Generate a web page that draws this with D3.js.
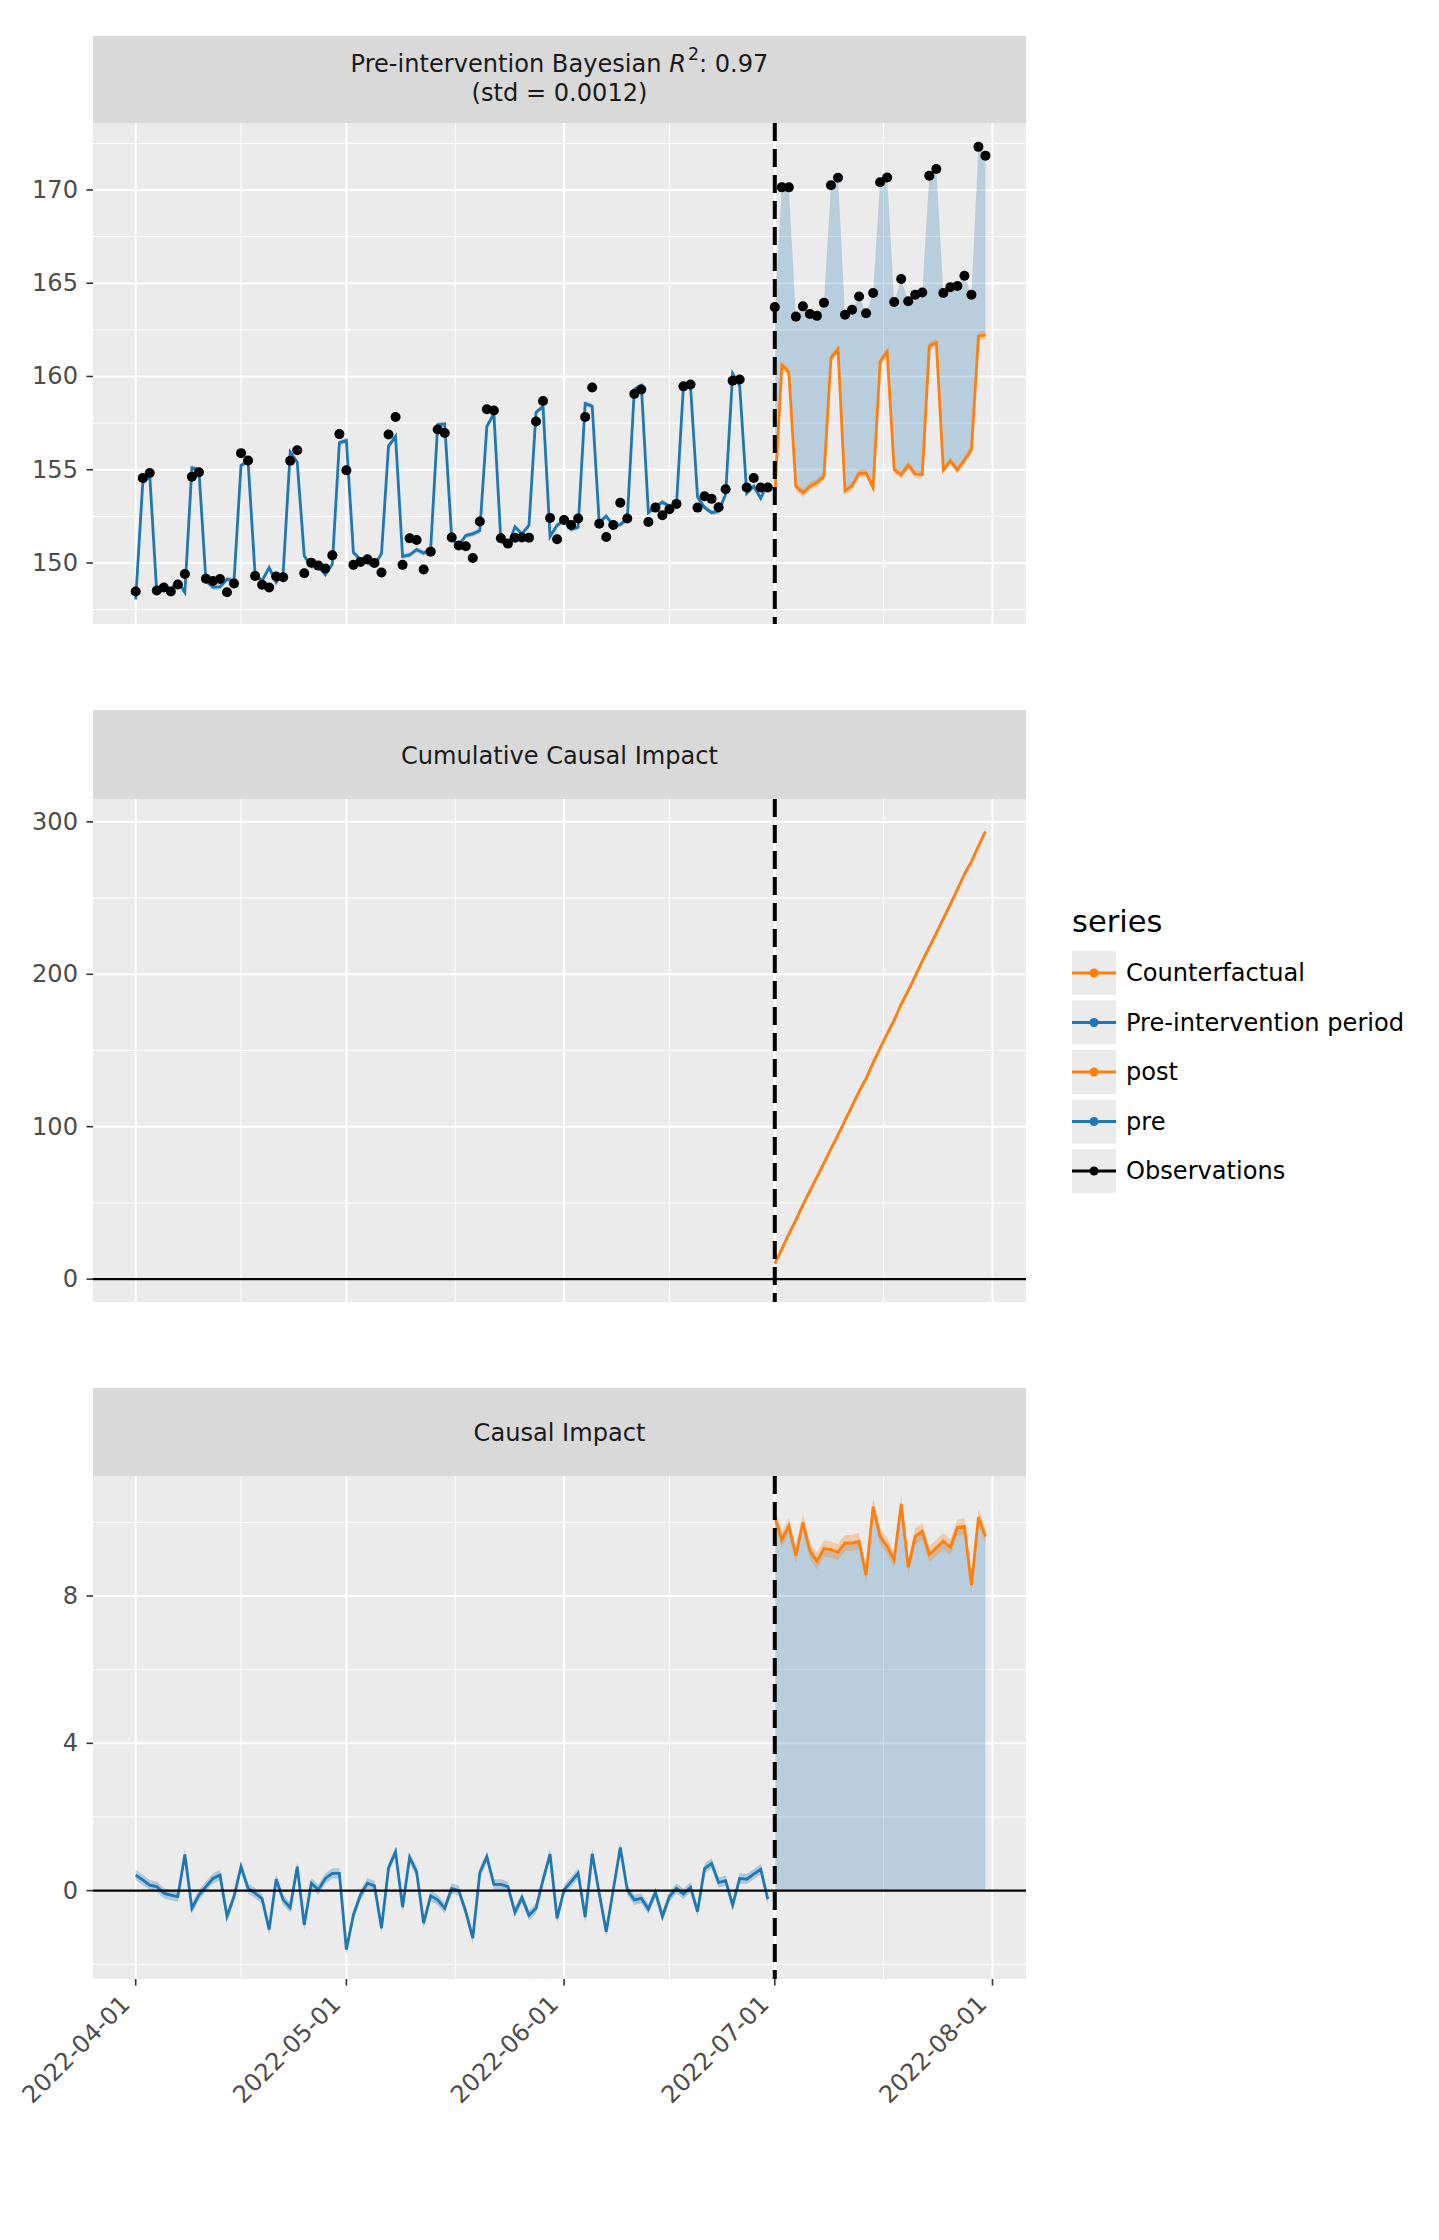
<!DOCTYPE html>
<html>
<head>
<meta charset="utf-8">
<script src="https://cdn.jsdelivr.net/npm/d3@7"></script>
<style>
  body { margin: 0; background: #fff; }
  svg { display: block; font-family: "DejaVu Sans", sans-serif; }
</style>
</head>
<body>
<svg id="chart"></svg>
<script>
// ---- data (daily, 2022-04-01 .. 2022-07-31) ----
const startDay = '2022-04-01'
const interventionDay = '2022-07-01'
const preLength = 91   // Apr 1 .. Jun 30

const observed = [
  148.47, 154.56, 154.83, 148.53, 148.69, 148.47, 148.85, 149.41, 154.62, 154.87,
  149.16, 149.04, 149.14, 148.43, 148.90, 155.89, 155.50, 149.30, 148.83, 148.69,
  149.28, 149.24, 155.48, 156.05, 149.45, 150.02, 149.86, 149.71, 150.41, 156.91,
  154.97, 149.90, 150.06, 150.20, 150.00, 149.49, 156.89, 157.83, 149.90, 151.33,
  151.23, 149.65, 150.61, 157.16, 156.97, 151.37, 150.94, 150.90, 150.27, 152.23,
  158.24, 158.18, 151.33, 151.04, 151.35, 151.37, 151.35, 157.59, 158.69, 152.41,
  151.27, 152.31, 152.04, 152.39, 157.83, 159.41, 152.10, 151.39, 152.04, 153.23,
  152.39, 159.06, 159.30, 152.20, 152.97, 152.56, 152.88, 153.17, 159.47, 159.57,
  152.97, 153.58, 153.44, 152.99, 153.95, 159.77, 159.84, 154.05, 154.56, 154.05,
  154.05,
  163.72, 170.14, 170.14, 163.21, 163.76, 163.35, 163.25, 163.95, 170.25, 170.65,
  163.31, 163.58, 164.29, 163.39, 164.48, 170.41, 170.67, 163.99, 165.23, 164.03,
  164.38, 164.50, 170.76, 171.12, 164.48, 164.79, 164.85, 165.40, 164.38, 172.31,
  171.84
]

// model fit before the intervention, counterfactual after it
const predicted = [
  148.05, 154.27, 154.68, 148.42, 148.76, 148.59, 149.01, 148.43, 155.10, 154.99,
  149.05, 148.71, 148.72, 149.13, 149.06, 155.24, 155.44, 149.37, 149.05, 149.75,
  148.97, 149.49, 155.94, 155.40, 150.38, 149.82, 149.84, 149.38, 149.94, 156.44,
  156.57, 150.56, 150.18, 150.00, 149.87, 150.51, 156.27, 156.78, 150.35, 150.43,
  150.72, 150.53, 150.75, 157.41, 157.45, 151.31, 150.94, 151.47, 151.56, 151.74,
  157.32, 158.01, 151.16, 150.93, 151.94, 151.56, 152.02, 158.07, 158.40, 151.42,
  152.02, 152.29, 151.80, 151.92, 158.55, 158.41, 152.17, 152.51, 152.02, 152.06,
  152.37, 159.31, 159.51, 152.70, 153.02, 153.26, 153.04, 153.11, 159.56, 159.48,
  153.54, 152.98, 152.70, 152.77, 153.68, 160.16, 159.51, 153.74, 154.11, 153.47,
  154.28,
  153.56, 160.61, 160.23, 154.11, 153.76, 154.12, 154.30, 154.66, 160.99, 161.46,
  153.87, 154.14, 154.80, 154.82, 154.05, 160.79, 161.32, 155.00, 154.73, 155.25,
  154.76, 154.74, 161.63, 161.81, 154.99, 155.47, 154.99, 155.51, 156.08, 162.17,
  162.22
]

const impact = [
  0.42, 0.29, 0.15, 0.11, -0.07, -0.12, -0.16, 0.98, -0.48, -0.12,
  0.11, 0.33, 0.42, -0.70, -0.16, 0.65, 0.06, -0.07, -0.22, -1.06,
  0.31, -0.25, -0.46, 0.65, -0.93, 0.20, 0.02, 0.33, 0.47, 0.47,
  -1.60, -0.66, -0.12, 0.20, 0.13, -1.02, 0.62, 1.05, -0.45, 0.90,
  0.51, -0.88, -0.14, -0.25, -0.48, 0.06, 0.00, -0.57, -1.29, 0.49,
  0.92, 0.17, 0.17, 0.11, -0.59, -0.19, -0.67, -0.48, 0.29, 0.99,
  -0.75, 0.02, 0.24, 0.47, -0.72, 1.00, -0.07, -1.12, 0.02, 1.17,
  0.02, -0.25, -0.21, -0.50, -0.05, -0.70, -0.16, 0.06, -0.09, 0.09,
  -0.57, 0.60, 0.74, 0.22, 0.27, -0.39, 0.33, 0.31, 0.45, 0.58,
  -0.23,
  10.16, 9.53, 9.91, 9.10, 10.00, 9.23, 8.95, 9.29, 9.26, 9.19,
  9.44, 9.44, 9.49, 8.57, 10.43, 9.62, 9.35, 8.99, 10.50, 8.78,
  9.62, 9.76, 9.13, 9.31, 9.49, 9.32, 9.86, 9.89, 8.30, 10.14,
  9.62
]

// post-intervention cumulative impact
const cumulativeImpact = [
  10.16, 19.69, 29.60, 38.70, 48.70, 57.93, 66.88, 76.17, 85.43, 94.62,
  104.06, 113.50, 122.99, 131.56, 141.99, 151.61, 160.96, 169.95, 180.45, 189.23,
  198.85, 208.61, 217.74, 227.05, 236.54, 245.86, 255.72, 265.61, 273.91, 284.05,
  293.67
]

// half width of the credible bands
const preBand = 0.14
const postBand = 0.22
const cumulativeBand = 2

const monthTicks = ['2022-04-01', '2022-05-01', '2022-06-01', '2022-07-01', '2022-08-01']
const topTicks = [150, 155, 160, 165, 170]
const topMinor = [147.5, 152.5, 157.5, 162.5, 167.5, 172.5]
const cumTicks = [0, 100, 200, 300]
const cumMinor = [50, 150, 250]
const impactTicks = [0, 4, 8]
const impactMinor = [-2, 2, 6, 10]

const seriesNames = ['Counterfactual', 'Pre-intervention period', 'post', 'pre', 'Observations']
const seriesColors = ['#ff7f0e', '#1f77b4', '#ff7f0e', '#1f77b4', '#000000']

// ---- layout ----
const W = 1439, H = 2240
const left = 93, right = 1026
const blue = '#1f77b4', orange = '#ff7f0e'
const fs = 24.1

const parse = d3.utcParse('%Y-%m-%d')
const t0 = parse(startDay)
const dates = observed.map((_, i) => d3.utcDay.offset(t0, i))
const tInt = parse(interventionDay)
const day = 864e5

const x = d3.scaleUtc()
  .domain([new Date(+t0 - 6.08 * day), new Date(+dates[dates.length - 1] + 5.77 * day)])
  .range([left, right])

const majorX = monthTicks.map(parse)
const minorX = d3.pairs(majorX).map(([a, b]) => new Date((+a + +b) / 2))

const svg = d3.select('#chart').attr('width', W).attr('height', H)

const panels = [
  {stripTop: 36, top: 123, bottom: 624, domain: [146.73, 173.59], ticks: topTicks, minor: topMinor},
  {stripTop: 710, top: 799, bottom: 1302, domain: [-15, 315], ticks: cumTicks, minor: cumMinor, title: 'Cumulative Causal Impact'},
  {stripTop: 1388, top: 1476, bottom: 1979, domain: [-2.4, 11.26], ticks: impactTicks, minor: impactMinor, title: 'Causal Impact'}
]

const pre = d3.range(preLength)
const post = d3.range(preLength, observed.length)

panels.forEach((p, k) => {
  p.y = d3.scaleLinear().domain(p.domain).range([p.bottom, p.top])
  const g = svg.append('g')
  p.g = g

  g.append('rect').attr('x', left).attr('y', p.stripTop).attr('width', right - left)
    .attr('height', p.top - p.stripTop).attr('fill', '#d9d9d9')
  g.append('rect').attr('x', left).attr('y', p.top).attr('width', right - left)
    .attr('height', p.bottom - p.top).attr('fill', '#ebebeb')

  const grid = g.append('g').attr('stroke', '#fff')
  grid.selectAll('.ym').data(p.minor).enter().append('line')
    .attr('x1', left).attr('x2', right).attr('y1', d => p.y(d)).attr('y2', d => p.y(d)).attr('stroke-width', 1)
  grid.selectAll('.yM').data(p.ticks).enter().append('line')
    .attr('x1', left).attr('x2', right).attr('y1', d => p.y(d)).attr('y2', d => p.y(d)).attr('stroke-width', 2)
  grid.selectAll('.xm').data(minorX).enter().append('line')
    .attr('y1', p.top).attr('y2', p.bottom).attr('x1', d => x(d)).attr('x2', d => x(d)).attr('stroke-width', 1)
  grid.selectAll('.xM').data(majorX).enter().append('line')
    .attr('y1', p.top).attr('y2', p.bottom).attr('x1', d => x(d)).attr('x2', d => x(d)).attr('stroke-width', 2)

  // y axis
  const ya = g.append('g')
  ya.selectAll('line').data(p.ticks).enter().append('line')
    .attr('x1', left - 6.5).attr('x2', left).attr('y1', d => p.y(d)).attr('y2', d => p.y(d))
    .attr('stroke', '#333').attr('stroke-width', 1.6)
  ya.selectAll('text').data(p.ticks).enter().append('text')
    .attr('x', left - 15).attr('y', d => p.y(d)).attr('text-anchor', 'end')
    .attr('dominant-baseline', 'central').attr('font-size', fs).attr('fill', '#4d4d4d')
    .text(d3.format('d'))

  if (p.title) {
    g.append('text').attr('x', (left + right) / 2).attr('y', (p.stripTop + p.top) / 2 + 1)
      .attr('text-anchor', 'middle').attr('dominant-baseline', 'central')
      .attr('font-size', fs).attr('fill', '#1a1a1a').text(p.title)
  }
})

// top strip title with R^2
{
  const p = panels[0]
  const t = p.g.append('text').attr('x', (left + right) / 2).attr('y', 64)
    .attr('text-anchor', 'middle').attr('dominant-baseline', 'central')
    .attr('font-size', fs).attr('fill', '#1a1a1a')
  t.append('tspan').text('Pre-intervention Bayesian ')
  t.append('tspan').attr('font-style', 'italic').text('R')
  t.append('tspan').attr('font-size', fs * 0.72).attr('dx', 2).attr('dy', -10).text('2')
  t.append('tspan').attr('dy', 10).text(': 0.97')
  p.g.append('text').attr('x', (left + right) / 2).attr('y', 93)
    .attr('text-anchor', 'middle').attr('dominant-baseline', 'central')
    .attr('font-size', fs).attr('fill', '#1a1a1a').text('(std = 0.0012)')
}

function band(y, idx, lo, hi) {
  return d3.area().x(i => x(dates[i])).y0(i => y(lo(i))).y1(i => y(hi(i)))(idx)
}
function path(y, idx, f) {
  return d3.line().x(i => x(dates[i])).y(i => y(f(i)))(idx)
}
function vline(p) {
  p.g.append('line').attr('x1', x(tInt)).attr('x2', x(tInt)).attr('y1', p.top).attr('y2', p.bottom)
    .attr('stroke', '#000').attr('stroke-width', 4).attr('stroke-dasharray', '18,8')
}
function hzero(p) {
  p.g.append('line').attr('x1', left).attr('x2', right).attr('y1', p.y(0)).attr('y2', p.y(0))
    .attr('stroke', '#000').attr('stroke-width', 2.3)
}

// ---- panel 1: observations vs prediction ----
{
  const p = panels[0], y = p.y, g = p.g
  g.append('path').attr('d', band(y, pre, i => predicted[i] - preBand, i => predicted[i] + preBand))
    .attr('fill', blue).attr('opacity', 0.3)
  g.append('path').attr('d', band(y, post, i => predicted[i], i => observed[i]))
    .attr('fill', blue).attr('opacity', 0.25)
  g.append('path').attr('d', band(y, post, i => predicted[i] - postBand, i => predicted[i] + postBand))
    .attr('fill', orange).attr('opacity', 0.3)
  g.append('path').attr('d', path(y, pre, i => predicted[i]))
    .attr('fill', 'none').attr('stroke', blue).attr('stroke-width', 2.8)
  g.append('path').attr('d', path(y, post, i => predicted[i]))
    .attr('fill', 'none').attr('stroke', orange).attr('stroke-width', 2.8)
  vline(p)
  g.selectAll('circle').data(observed).enter().append('circle')
    .attr('cx', (d, i) => x(dates[i])).attr('cy', d => y(d)).attr('r', 5).attr('fill', '#000')
}

// ---- panel 2: cumulative impact ----
{
  const p = panels[1], y = p.y, g = p.g
  const c = i => cumulativeImpact[i - preLength]
  g.append('path').attr('d', band(y, post, i => c(i) - cumulativeBand, i => c(i) + cumulativeBand))
    .attr('fill', orange).attr('opacity', 0.3)
  g.append('path').attr('d', path(y, post, c))
    .attr('fill', 'none').attr('stroke', orange).attr('stroke-width', 2.8)
  hzero(p)
  vline(p)
}

// ---- panel 3: pointwise impact ----
{
  const p = panels[2], y = p.y, g = p.g
  g.append('path').attr('d', band(y, post, i => 0, i => impact[i]))
    .attr('fill', blue).attr('opacity', 0.25)
  g.append('path').attr('d', band(y, pre, i => impact[i] - preBand, i => impact[i] + preBand))
    .attr('fill', blue).attr('opacity', 0.3)
  g.append('path').attr('d', band(y, post, i => impact[i] - postBand, i => impact[i] + postBand))
    .attr('fill', orange).attr('opacity', 0.3)
  g.append('path').attr('d', path(y, pre, i => impact[i]))
    .attr('fill', 'none').attr('stroke', blue).attr('stroke-width', 2.8)
  g.append('path').attr('d', path(y, post, i => impact[i]))
    .attr('fill', 'none').attr('stroke', orange).attr('stroke-width', 2.8)
  hzero(p)
  vline(p)

  // x axis, labels rotated with their top-right corner at the tick
  const xa = g.append('g')
  xa.selectAll('line').data(majorX).enter().append('line')
    .attr('x1', d => x(d)).attr('x2', d => x(d)).attr('y1', p.bottom).attr('y2', p.bottom + 6.5)
    .attr('stroke', '#333').attr('stroke-width', 1.6)
  xa.selectAll('text').data(majorX).enter().append('text')
    .attr('transform', d => `translate(${x(d) - 10},${p.bottom + 21}) rotate(-45)`)
    .attr('text-anchor', 'end').attr('dominant-baseline', 'central')
    .attr('font-size', fs).attr('fill', '#4d4d4d')
    .text(d3.utcFormat('%Y-%m-%d'))
}

// ---- legend ----
{
  const lg = svg.append('g').attr('transform', 'translate(1072,0)')
  lg.append('text').attr('x', 0).attr('y', 932).attr('font-size', 30.5).attr('fill', '#000').text('series')
  const items = lg.selectAll('.key').data(seriesNames).enter().append('g')
    .attr('transform', (d, i) => `translate(0,${951 + i * 49.5})`)
  items.append('rect').attr('width', 44).attr('height', 44).attr('fill', '#ebebeb')
  items.append('line').attr('x1', 0).attr('x2', 44).attr('y1', 22).attr('y2', 22)
    .attr('stroke', (d, i) => seriesColors[i]).attr('stroke-width', 3)
  items.append('circle').attr('cx', 22).attr('cy', 22).attr('r', 4.5).attr('fill', (d, i) => seriesColors[i])
  items.append('text').attr('x', 54).attr('y', 22).attr('dominant-baseline', 'central')
    .attr('font-size', fs).attr('fill', '#000').text(d => d)
}
</script>
</body>
</html>
